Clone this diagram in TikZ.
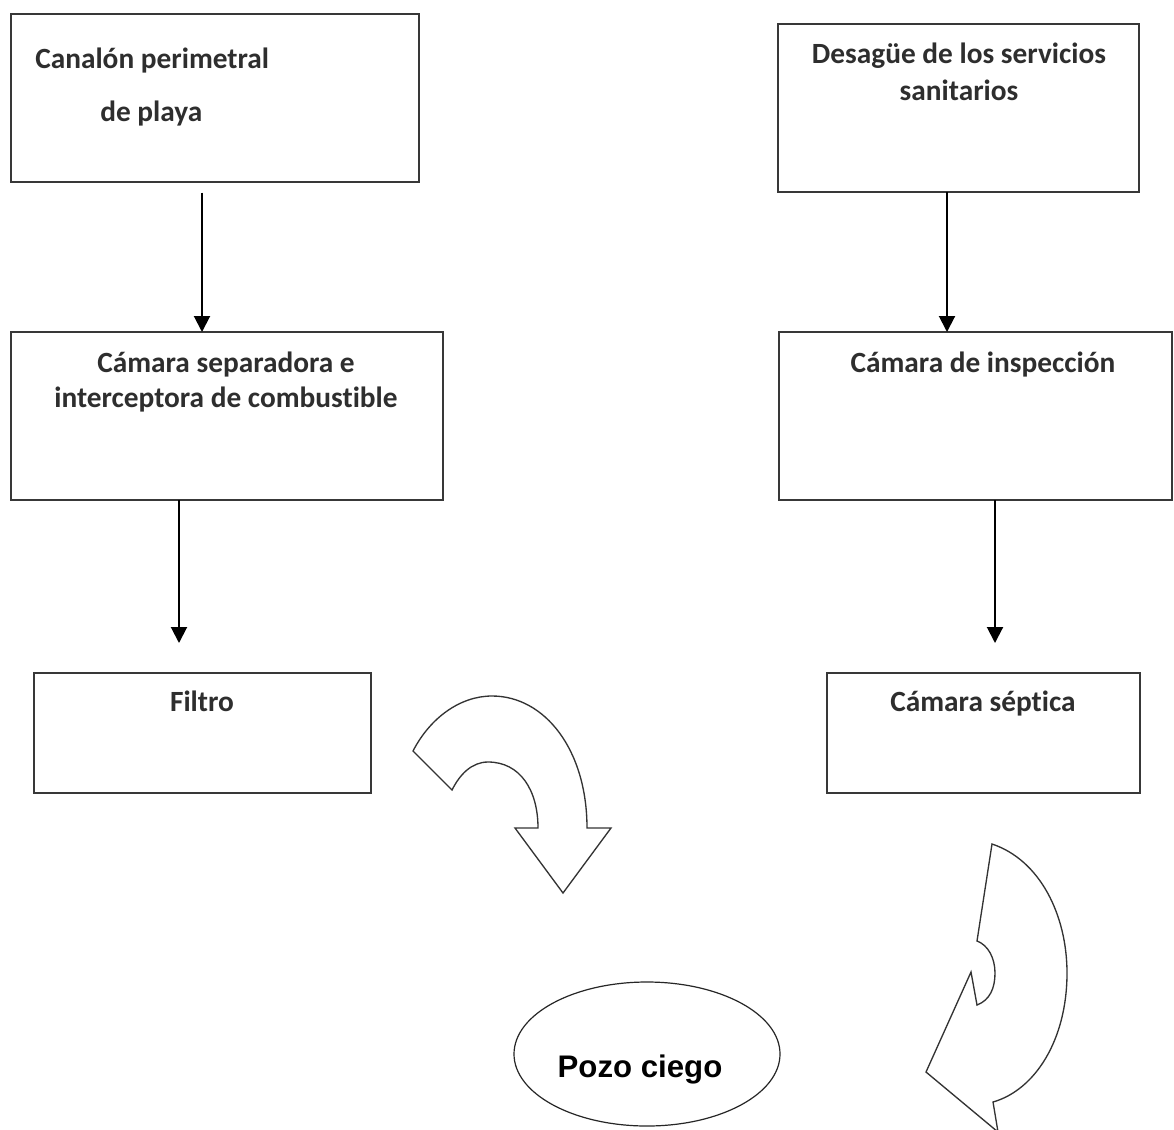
\documentclass[tikz,border=0pt]{standalone}
\usepackage{fontspec}
\setmainfont{Carlito}[Ligatures=CommonOff]
\newfontfamily\arialfont{Liberation Sans}
\usetikzlibrary{arrows.meta,shapes.geometric}
\begin{document}
\begin{tikzpicture}[x=0.75pt,y=-0.75pt,
  box/.style={draw=black!78,line width=1.1pt,rectangle,inner sep=0pt,outer sep=0pt},
  lbl/.style={anchor=base,inner sep=0pt,text=black!82,font=\fontsize{22}{26}\selectfont\bfseries},
  arr/.style={draw=black,line width=1.5pt,-{Triangle[width=12pt,length=12pt]}},
  blockarrow/.style={draw=black!80,line width=1pt,fill=white,line join=miter}
]
\useasboundingbox (0,0) rectangle (1174,1129);
\fill[white] (0,0) rectangle (1174,1129);

% boxes
\node[box,minimum width=306pt,minimum height=126pt] (b1) at (215,98) {};
\node[box,minimum width=270.75pt,minimum height=126pt] (b2) at (958.5,108) {};
\node[box,minimum width=324pt,minimum height=126pt] (b3) at (227,416) {};
\node[box,minimum width=294.75pt,minimum height=126pt] (b4) at (975.5,416) {};
\node[box,minimum width=252.75pt,minimum height=90pt] (b5) at (202.5,733) {};
\node[box,minimum width=234.75pt,minimum height=90pt] (b6) at (983.5,733) {};
\node[ellipse,draw=black!85,line width=0.9pt,minimum width=199.5pt,minimum height=108pt,inner sep=0pt] (pozo) at (647,1054) {};

% labels
\node[lbl,anchor=base west] (t1a) at (35,68) {Canalón perimetral};
\node[lbl,anchor=base west] (t1b) at (100,121) {de playa};
\node[lbl] (t2a) at (959,63) {Desagüe de los servicios};
\node[lbl] (t2b) at (959,100) {sanitarios};
\node[lbl] (t3a) at (226,372) {Cámara separadora e};
\node[lbl] (t3b) at (226,407) {interceptora de combustible};
\node[lbl] (t4) at (983,372) {Cámara de inspección};
\node[lbl] (t5) at (202,711) {Filtro};
\node[lbl] (t6) at (983,711) {Cámara séptica};
\node[anchor=base,inner sep=0pt,font=\arialfont\fontsize{23.4}{28}\selectfont\bfseries] (t7) at (640,1077) {Pozo ciego};

% connectors
\coordinate (x1) at (202,0);
\coordinate (x2) at (947,0);
\coordinate (x3) at (179,0);
\coordinate (x4) at (995,0);
\coordinate (e3) at (179,643);
\coordinate (e4) at (995,643);
\draw[arr,shorten <=8pt] (b1.south -| x1) -- (b3.north -| x1);
\draw[arr] (b2.south -| x2) -- (b4.north -| x2);
\draw[arr] (b3.south -| x3) -- (e3);
\draw[arr] (b4.south -| x4) -- (e4);

% curved block arrow (left)
\draw[blockarrow] (413,751) .. controls (430,718) and (460,696) .. (492,696)
  .. controls (545,696) and (587,750) .. (587,828)
  -- (611,828) -- (563,893) -- (515,828) -- (538,828)
  .. controls (538,790) and (520,762) .. (488,762)
  .. controls (472,762) and (460,774) .. (452,790) -- cycle;

% curved block arrow (right)
\draw[blockarrow] (992,844) .. controls (1040,860) and (1067,915) .. (1067,973)
  .. controls (1067,1040) and (1035,1090) .. (993,1102)
  -- (998,1132) -- (926,1072) -- (971,972) -- (977,1005)
  .. controls (990,1000) and (995,988) .. (995,973)
  .. controls (995,958) and (988,945) .. (977,941) -- cycle;
\end{tikzpicture}
\end{document}
